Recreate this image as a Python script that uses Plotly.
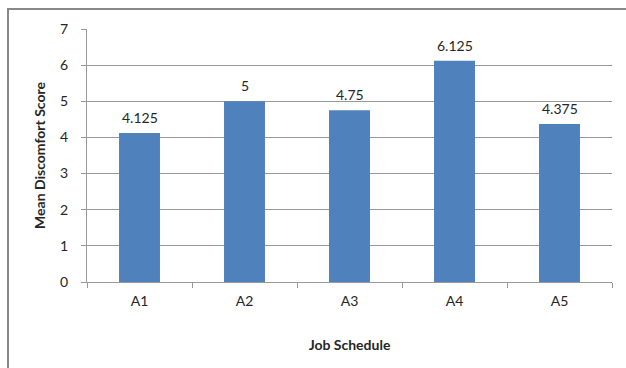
import plotly.graph_objects as go

categories = ["A1", "A2", "A3", "A4", "A5"]
scores = [4.125, 5, 4.75, 6.125, 4.375]
labels = ["4.125", "5", "4.75", "6.125", "4.375"]

FONT = "Lato"
FS = 14
TXT = "#262626"
fig = go.Figure(go.Bar(
    x=categories, y=scores,
    marker=dict(color="#4F81BD", line=dict(width=0)),
    cliponaxis=False,
))

L, R, T, B = 87, 14, 29, 86
W, H = 626, 368
pw, ph = W - L - R, H - T - B

annotations = [
    dict(x=c, y=v, text=t, xref="x", yref="y", showarrow=False,
         yanchor="bottom", yshift=5, font=dict(family=FONT, size=FS, color=TXT))
    for c, v, t in zip(categories, scores, labels)
]

fig.update_layout(
    width=W, height=H,
    margin=dict(l=L, r=R, t=T, b=B),
    paper_bgcolor="white", plot_bgcolor="white",
    bargap=0.61,
    showlegend=False,
    font=dict(family=FONT, size=FS, color=TXT),
    annotations=annotations,
    xaxis=dict(
        showline=True, linecolor="#999", linewidth=1,
        ticks="outside", ticklen=5, tickcolor="#999", tickson="boundaries",
        ticklabelstandoff=6,
        tickfont=dict(family=FONT, size=FS, color=TXT),
        title=dict(text="<b>Job Schedule</b>", font=dict(family=FONT, size=FS, color=TXT), standoff=32),
    ),
    yaxis=dict(
        range=[0, 7], dtick=1,
        showline=True, linecolor="#999", linewidth=1,
        showgrid=True, gridcolor="#999", gridwidth=1,
        ticks="outside", ticklen=5, tickcolor="#999",
        ticklabelstandoff=10,
        zeroline=False,
        tickfont=dict(family=FONT, size=FS, color=TXT),
        title=dict(text="<b>Mean Discomfort Score</b>", font=dict(family=FONT, size=FS, color=TXT), standoff=11),
    ),
    shapes=[dict(
        type="rect", xref="paper", yref="paper",
        x0=(8 - L) / pw, x1=(632 - L) / pw,
        y0=(H - 374 - B) / ph, y1=1 + (T - 9) / ph,
        line=dict(color="#888", width=2), fillcolor="rgba(0,0,0,0)", layer="below",
    )],
)

fig.write_html("out.html")
